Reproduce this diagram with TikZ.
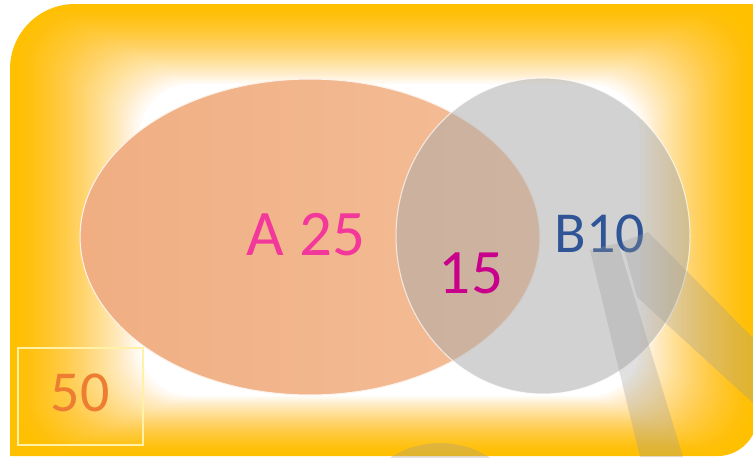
\documentclass[tikz,border=0pt]{standalone}
\usepackage{fontspec}
\setmainfont{Carlito}
\usepackage{tikz}
\usetikzlibrary{positioning}
\definecolor{vngold}{HTML}{FFC000}
\definecolor{vnpeach}{HTML}{F4BE98}
\definecolor{vnpeachdark}{HTML}{F0AE82}
\definecolor{vngray}{HTML}{AAAAAA}
\definecolor{vnray}{HTML}{9A9A9A}
\definecolor{vnpink}{HTML}{F2399B}
\definecolor{vnmagenta}{HTML}{C8008C}
\definecolor{vnblue}{HTML}{2F5597}
\definecolor{vnorange}{HTML}{ED7D31}
\definecolor{vnframe}{HTML}{FFF2A8}

\begin{document}
\begin{tikzpicture}[
  x=0.02cm, y=-0.02cm,
  num/.style={font=\fontsize{#1}{#1}\selectfont, anchor=base, inner sep=0pt},
  glass/.style={fill=vngray, fill opacity=0.52, draw=white, draw opacity=0.7, line width=0.6pt},
  ray/.style={fill=vnray, fill opacity=0.3}
]
  \useasboundingbox (0,0) rectangle (753,457);

  % Universe
  \fill[vngold] (10,456) -- (10,69) .. controls (10,33) and (39,4) .. (75,4) -- (758,4)
    -- (758,415) .. controls (758,437) and (740,456) .. (718,456) -- cycle;
  \foreach \i [evaluate=\i as \op using {1-(1-(\i/40)^1.3)/(1-((\i-1)/40+0.0001)^1.3)}] in {1,...,40}
    \fill[white, fill opacity=\op, rounded corners=1cm]
      ({10+3.25*\i},{4+2*\i}) rectangle ({758-2.95*\i},{456-1.5*\i});

  % Sets
  \path[left color=vnpeachdark, middle color=vnpeach, right color=vnpeach,
    draw=white!80!vnpeach, line width=0.6pt] (310,237) ellipse [x radius=4.6cm, y radius=3.16cm];
  \path[glass] (543,236) ellipse [x radius=2.94cm, y radius=3.16cm];

  % Counts
  \node[num=37, text=vnpink] (a) at (306,255) {A 25};
  \node[num=36, text=vnmagenta] (ab) at (471,293) {15};
  \node[num=33, text=vnblue] (b) at (600,252) {B10};
  \node[draw=vnframe, line width=0.6pt, minimum width=2.5cm, minimum height=1.94cm] (ubox) at (80.5,396.5) {};
  \node[num=33, text=vnorange] (u) at (80,411) {50};

  % Rays
  \fill[ray] (590,250) -- (618,243) -- (683,457) -- (640,457) -- cycle;
  \fill[ray] (622,242) -- (648,232) -- (753,338) -- (753,403) -- (637,297) -- cycle;
  \fill[ray] (440,535) circle [radius=1.84cm];
\end{tikzpicture}
\end{document}
